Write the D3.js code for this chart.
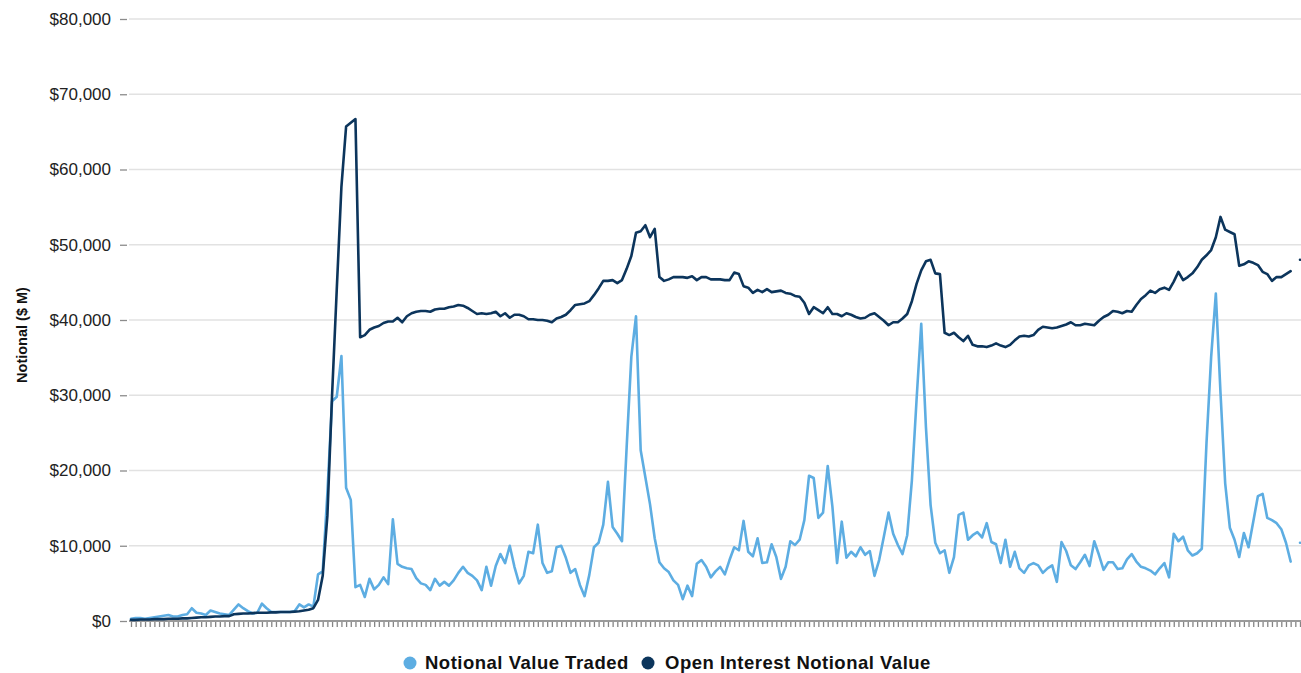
<!DOCTYPE html>
<html><head><meta charset="utf-8">
<script src="https://cdn.jsdelivr.net/npm/d3@7"></script>
<style>
html,body{margin:0;padding:0;background:#fff;}
svg{display:block;font-family:"Liberation Sans",Arial,Helvetica,sans-serif;}
</style></head><body>
<svg id="chart" width="1301" height="673"></svg>
<script>
// ---- data ----
const yTickValues = [0, 10000, 20000, 30000, 40000, 50000, 60000, 70000, 80000];
const seriesNames = ["Notional Value Traded", "Open Interest Notional Value"];
const seriesColors = ["#5dade2", "#0c355c"];

const notionalTraded = [
  300, 400, 400, 300, 400, 500, 600, 700, 800, 600, 600, 800, 900, 1700, 1100, 1000, 800, 1400, 1200, 1000,
  900, 800, 1500, 2200, 1700, 1300, 1000, 1100, 2300, 1700, 1200, 1200, 1200, 1200, 1200, 1300, 2200, 1800, 2200, 1900,
  6200, 6600, 17000, 29200, 29800, 35200,
  17700, 16100, 4500, 4800, 3200, 5600, 4200, 4800, 5800, 4900, 13500, 7600, 7200, 7000, 6900, 5700, 5000, 4800, 4100, 5600,
  4700, 5200, 4700, 5400, 6400, 7200, 6400, 6000, 5400, 4100, 7200, 4700, 7300, 8900, 7700, 10000, 7200, 5000, 6000, 9200,
  9000, 12800, 7700, 6400, 6600, 9800, 10000, 8400, 6400, 6900, 4800, 3300, 6100, 9800, 10400, 12800, 18500, 12500, 11600, 10600,
  23100, 35100, 40500, 22700, 19100, 15500,
  11000, 7800, 7000, 6500, 5400, 4800, 2900, 4700, 3300, 7600, 8100, 7200, 5800, 6600, 7200, 6200, 8100, 9800, 9400, 13300,
  9200, 8600, 11000, 7700, 7800, 10200, 8500, 5600, 7200, 10600, 10100, 10800, 13400, 19300, 19000, 13700, 14400, 20600, 15200, 7700,
  13200, 8400, 9200, 8600, 9800, 8800, 9300, 6000, 8100, 11200, 14400, 11600, 10100, 8900, 11400, 18700, 29400, 39500, 25800, 15400,
  10400, 9000, 9400, 6400, 8500, 14100, 14400, 10800,
  11400, 11800, 11100, 13000, 10500, 10200, 7700, 10800, 7200, 9200, 7000, 6400, 7400, 7700, 7400, 6400, 7000, 7400, 5200, 10500,
  9300, 7400, 6900, 7800, 8800, 7300, 10600, 8800, 6800, 7800, 7800, 6900, 7000, 8200, 8900, 7900, 7200, 7000, 6700, 6200,
  7000, 7700, 5800, 11600, 10600, 11200, 9400, 8700, 9000, 9600, 23600, 35100, 43500, 30300, 18300, 12400, 10800, 8500, 11700, 9800,
  13200, 16600, 16900, 13700, 13400, 13000, 12200, 10400, 7900,
  null, 10400
];

const openInterest = [
  150, 150, 200, 200, 200, 250, 250, 250, 300, 300, 300, 350, 350, 400, 450, 500, 500, 550, 600, 600,
  650, 650, 900, 950, 1000, 1000, 1050, 1100, 1100, 1100, 1150, 1150, 1200, 1200, 1200, 1250, 1300, 1400, 1500, 1700,
  2800, 6000, 14000, 30000, 44000, 57700, 65700, 66200, 66700,
  37700, 38000, 38700, 39000, 39200, 39600, 39800, 39800, 40300, 39700, 40500, 40900, 41100, 41200, 41200, 41100, 41400, 41500, 41500, 41700,
  41800, 42000, 41900, 41600, 41200, 40800, 40900, 40800, 40900, 41100, 40500, 40900, 40300, 40700, 40700, 40500, 40100, 40100, 40000, 40000,
  39900, 39700, 40200, 40400, 40700, 41300, 42000, 42100, 42200, 42500, 43300, 44200, 45200, 45200, 45300, 44900, 45300, 46800, 48500, 51600,
  51800, 52600, 51000, 52100, 45700, 45200, 45400, 45700, 45700, 45700, 45600, 45800, 45300, 45700, 45700,
  45400, 45400, 45400, 45300, 45300, 46300, 46100, 44500, 44300, 43600,
  44000, 43700, 44100, 43700, 43800, 43900, 43600, 43500, 43200, 43100,
  42300, 40800, 41700, 41300, 40900, 41700, 40800, 40800, 40500, 40900,
  40700, 40400, 40200, 40300, 40700, 40900, 40400, 39900, 39300, 39700,
  39700, 40200, 40800, 42500, 44800, 46600, 47800, 48000, 46200, 46100,
  38300, 38000, 38300, 37700, 37200, 37900, 36700, 36500, 36500, 36400,
  36600, 36900, 36600, 36400, 36700, 37300, 37800, 37900, 37800, 38000,
  38700, 39100, 39000, 38900, 39000, 39200, 39400, 39700, 39300, 39300,
  39500, 39400, 39300, 39900, 40400, 40700, 41200, 41100, 40900, 41200,
  41100, 42000, 42800, 43300, 43900, 43600, 44100, 44300, 44000, 45100,
  46400, 45300, 45700, 46200, 47000, 48000, 48600, 49300, 51000, 53700,
  52000, 51700, 51400, 47200, 47400, 47800, 47600, 47300, 46400, 46100,
  45200, 45700, 45700, 46100, 46500,
  null, 48000
];

const categories = d3.range(notionalTraded.length); // weekly observations (no labels shown)

// ---- layout ----
const W = 1301, H = 673;
const plot = {left: 130, right: 1301, top: 19, bottom: 621};
const svg = d3.select("#chart");

const x = d3.scalePoint().domain(categories).range([131, 1300]);
const y = d3.scaleLinear().domain([0, 80000]).range([plot.bottom, plot.top]);

// gridlines
svg.append("g").selectAll("line").data(yTickValues.filter(v => v > 0)).join("line")
  .attr("x1", plot.left - 1).attr("x2", plot.right)
  .attr("y1", d => y(d)).attr("y2", d => y(d))
  .attr("stroke", "#e2e2e2").attr("stroke-width", 1.3);

// y axis
const yAxis = d3.axisLeft(y).tickValues(yTickValues).tickFormat(d3.format("$,")).tickSize(7).tickPadding(9);
const gy = svg.append("g").attr("transform", `translate(127,0)`).call(yAxis);
gy.select(".domain").remove();
gy.selectAll(".tick line").attr("stroke", "#8c8c8c").attr("stroke-width", 1.3);
gy.selectAll(".tick text").attr("fill", "#222").style("font-size", "17px")
  .style("font-family", '"Liberation Sans", Arial, sans-serif');

// x axis
const xAxis = d3.axisBottom(x).tickFormat("").tickSize(6).tickSizeOuter(0);
const gx = svg.append("g").attr("transform", `translate(0,${plot.bottom})`).call(xAxis);
gx.select(".domain").remove();
gx.selectAll(".tick line").attr("stroke", "#858585").attr("stroke-width", 1.3);
gx.append("line").attr("x1", plot.left - 1).attr("x2", plot.right).attr("y1", 0).attr("y2", 0)
  .attr("stroke", "#9a9a9a").attr("stroke-width", 2);

// lines
const line = d3.line().defined(d => d != null)
  .x((d, i) => x(categories[i])).y(d => y(d));

[notionalTraded, openInterest].forEach((s, k) => {
  svg.append("path").datum(s)
    .attr("fill", "none").attr("stroke", seriesColors[k]).attr("stroke-width", 2.6)
    .attr("stroke-linejoin", "round").attr("stroke-linecap", "round")
    .attr("d", line);
});

// y axis title
svg.append("text")
  .attr("transform", `translate(27,335) rotate(-90)`)
  .attr("text-anchor", "middle")
  .style("font-size", "14.5px").style("font-weight", "bold").attr("fill", "#111")
  .text("Notional ($ M)");

// legend
const legendPos = [{cx: 410, tx: 425}, {cx: 648, tx: 665}];
const lg = svg.append("g").attr("transform", "translate(0,663)");
seriesNames.forEach((name, k) => {
  lg.append("circle").attr("cx", legendPos[k].cx).attr("cy", 0).attr("r", 6.5).attr("fill", seriesColors[k]);
  lg.append("text").attr("x", legendPos[k].tx).attr("y", 6)
    .style("font-size", "18.5px").style("font-weight", "bold").style("letter-spacing", "0.5px").attr("fill", "#111")
    .text(name);
});
</script>
</body></html>
